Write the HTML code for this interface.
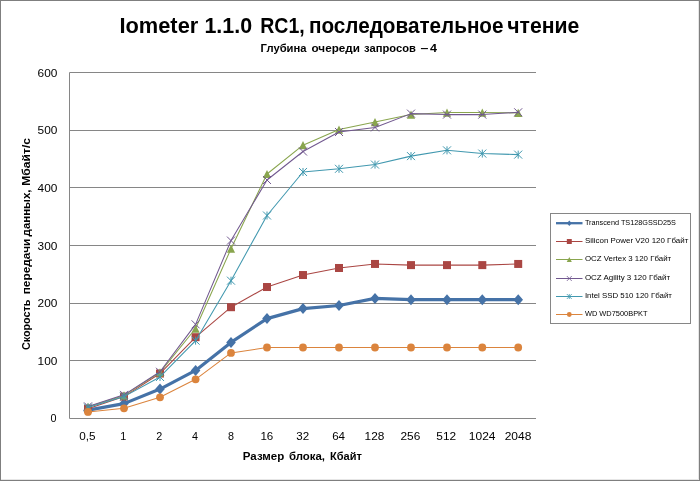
<!DOCTYPE html>
<html lang="ru"><head><meta charset="utf-8"><title>Iometer 1.1.0 RC1, последовательное чтение</title>
<style>html,body{margin:0;padding:0;background:#fff}body{width:700px;height:481px;overflow:hidden}svg{display:block}text{font-family:"Liberation Sans",sans-serif;fill:#000}.b{font-weight:bold}</style></head><body>
<svg width="700" height="481" viewBox="0 0 700 481">
<rect x="0" y="0" width="700" height="481" fill="#fff"/>
<path d="M69.50 418.50H536.00M69.50 360.50H536.00M69.50 303.50H536.00M69.50 245.50H536.00M69.50 187.50H536.00M69.50 130.50H536.00M69.50 72.50H536.00M69.50 72.50V418.50" stroke="#868686" stroke-width="1" fill="none"/>
<polyline points="88.00,410.14 124.00,403.62 160.00,389.09 195.60,370.41 231.00,342.38 267.00,318.62 303.00,308.59 339.00,305.47 375.00,298.38 411.00,299.71 447.00,299.71 482.30,299.71 518.20,299.71" fill="none" stroke="#4572A7" stroke-width="3.2" stroke-linejoin="round" stroke-linecap="round"/>
<path d="M88.00 404.64L92.80 410.14L88.00 415.64L83.20 410.14Z" fill="#4572A7"/><path d="M124.00 398.12L128.80 403.62L124.00 409.12L119.20 403.62Z" fill="#4572A7"/><path d="M160.00 383.59L164.80 389.09L160.00 394.59L155.20 389.09Z" fill="#4572A7"/><path d="M195.60 364.91L200.40 370.41L195.60 375.91L190.80 370.41Z" fill="#4572A7"/><path d="M231.00 336.88L235.80 342.38L231.00 347.88L226.20 342.38Z" fill="#4572A7"/><path d="M267.00 313.12L271.80 318.62L267.00 324.12L262.20 318.62Z" fill="#4572A7"/><path d="M303.00 303.09L307.80 308.59L303.00 314.09L298.20 308.59Z" fill="#4572A7"/><path d="M339.00 299.97L343.80 305.47L339.00 310.97L334.20 305.47Z" fill="#4572A7"/><path d="M375.00 292.88L379.80 298.38L375.00 303.88L370.20 298.38Z" fill="#4572A7"/><path d="M411.00 294.21L415.80 299.71L411.00 305.21L406.20 299.71Z" fill="#4572A7"/><path d="M447.00 294.21L451.80 299.71L447.00 305.21L442.20 299.71Z" fill="#4572A7"/><path d="M482.30 294.21L487.10 299.71L482.30 305.21L477.50 299.71Z" fill="#4572A7"/><path d="M518.20 294.21L523.00 299.71L518.20 305.21L513.40 299.71Z" fill="#4572A7"/>
<polyline points="88.00,408.70 124.00,396.59 160.00,373.52 195.60,337.19 231.00,307.20 267.00,287.02 303.00,275.03 339.00,267.99 375.00,263.95 411.00,265.11 447.00,265.11 482.30,265.11 518.20,263.95" fill="none" stroke="#AA4643" stroke-width="1.05" stroke-linejoin="round" stroke-linecap="round"/>
<rect x="84.00" y="404.70" width="8.00" height="8.00" fill="#AA4643"/><rect x="120.00" y="392.59" width="8.00" height="8.00" fill="#AA4643"/><rect x="156.00" y="369.52" width="8.00" height="8.00" fill="#AA4643"/><rect x="191.60" y="333.19" width="8.00" height="8.00" fill="#AA4643"/><rect x="227.00" y="303.20" width="8.00" height="8.00" fill="#AA4643"/><rect x="263.00" y="283.02" width="8.00" height="8.00" fill="#AA4643"/><rect x="299.00" y="271.03" width="8.00" height="8.00" fill="#AA4643"/><rect x="335.00" y="263.99" width="8.00" height="8.00" fill="#AA4643"/><rect x="371.00" y="259.95" width="8.00" height="8.00" fill="#AA4643"/><rect x="407.00" y="261.11" width="8.00" height="8.00" fill="#AA4643"/><rect x="443.00" y="261.11" width="8.00" height="8.00" fill="#AA4643"/><rect x="478.30" y="261.11" width="8.00" height="8.00" fill="#AA4643"/><rect x="514.20" y="259.95" width="8.00" height="8.00" fill="#AA4643"/>
<polyline points="88.00,406.97 124.00,395.43 160.00,372.37 195.60,328.54 231.00,248.73 267.00,173.99 303.00,145.16 339.00,129.59 375.00,122.09 411.00,114.60 447.00,112.58 482.30,112.58 518.20,112.87" fill="none" stroke="#89A54E" stroke-width="1.05" stroke-linejoin="round" stroke-linecap="round"/>
<path d="M88.00 402.87L92.10 411.07L83.90 411.07Z" fill="#89A54E"/><path d="M124.00 391.33L128.10 399.53L119.90 399.53Z" fill="#89A54E"/><path d="M160.00 368.27L164.10 376.47L155.90 376.47Z" fill="#89A54E"/><path d="M195.60 324.44L199.70 332.64L191.50 332.64Z" fill="#89A54E"/><path d="M231.00 244.63L235.10 252.83L226.90 252.83Z" fill="#89A54E"/><path d="M267.00 169.89L271.10 178.09L262.90 178.09Z" fill="#89A54E"/><path d="M303.00 141.06L307.10 149.26L298.90 149.26Z" fill="#89A54E"/><path d="M339.00 125.49L343.10 133.69L334.90 133.69Z" fill="#89A54E"/><path d="M375.00 117.99L379.10 126.19L370.90 126.19Z" fill="#89A54E"/><path d="M411.00 110.50L415.10 118.70L406.90 118.70Z" fill="#89A54E"/><path d="M447.00 108.48L451.10 116.68L442.90 116.68Z" fill="#89A54E"/><path d="M482.30 108.48L486.40 116.68L478.20 116.68Z" fill="#89A54E"/><path d="M518.20 108.77L522.30 116.97L514.10 116.97Z" fill="#89A54E"/>
<polyline points="88.00,406.39 124.00,394.86 160.00,371.79 195.60,324.33 231.00,240.60 267.00,179.99 303.00,151.50 339.00,132.01 375.00,127.40 411.00,113.62 447.00,114.60 482.30,114.60 518.20,112.29" fill="none" stroke="#71588F" stroke-width="1.05" stroke-linejoin="round" stroke-linecap="round"/>
<path d="M84.00 402.39L92.00 410.39M84.00 410.39L92.00 402.39" stroke="#71588F" stroke-width="1.00" fill="none"/><path d="M120.00 390.86L128.00 398.86M120.00 398.86L128.00 390.86" stroke="#71588F" stroke-width="1.00" fill="none"/><path d="M156.00 367.79L164.00 375.79M156.00 375.79L164.00 367.79" stroke="#71588F" stroke-width="1.00" fill="none"/><path d="M191.60 320.33L199.60 328.33M191.60 328.33L199.60 320.33" stroke="#71588F" stroke-width="1.00" fill="none"/><path d="M227.00 236.60L235.00 244.60M227.00 244.60L235.00 236.60" stroke="#71588F" stroke-width="1.00" fill="none"/><path d="M263.00 175.99L271.00 183.99M263.00 183.99L271.00 175.99" stroke="#71588F" stroke-width="1.00" fill="none"/><path d="M299.00 147.50L307.00 155.50M299.00 155.50L307.00 147.50" stroke="#71588F" stroke-width="1.00" fill="none"/><path d="M335.00 128.01L343.00 136.01M335.00 136.01L343.00 128.01" stroke="#71588F" stroke-width="1.00" fill="none"/><path d="M371.00 123.40L379.00 131.40M371.00 131.40L379.00 123.40" stroke="#71588F" stroke-width="1.00" fill="none"/><path d="M407.00 109.62L415.00 117.62M407.00 117.62L415.00 109.62" stroke="#71588F" stroke-width="1.00" fill="none"/><path d="M443.00 110.60L451.00 118.60M443.00 118.60L451.00 110.60" stroke="#71588F" stroke-width="1.00" fill="none"/><path d="M478.30 110.60L486.30 118.60M478.30 118.60L486.30 110.60" stroke="#71588F" stroke-width="1.00" fill="none"/><path d="M514.20 108.29L522.20 116.29M514.20 116.29L522.20 108.29" stroke="#71588F" stroke-width="1.00" fill="none"/>
<polyline points="88.00,407.54 124.00,396.59 160.00,376.98 195.60,340.65 231.00,280.68 267.00,215.51 303.00,171.97 339.00,168.80 375.00,164.59 411.00,156.12 447.00,150.35 482.30,153.58 518.20,154.62" fill="none" stroke="#4198AF" stroke-width="1.05" stroke-linejoin="round" stroke-linecap="round"/>
<path d="M84.00 403.54L92.00 411.54M84.00 411.54L92.00 403.54M88.00 403.54L88.00 411.54" stroke="#4198AF" stroke-width="1.00" fill="none"/><path d="M120.00 392.59L128.00 400.59M120.00 400.59L128.00 392.59M124.00 392.59L124.00 400.59" stroke="#4198AF" stroke-width="1.00" fill="none"/><path d="M156.00 372.98L164.00 380.98M156.00 380.98L164.00 372.98M160.00 372.98L160.00 380.98" stroke="#4198AF" stroke-width="1.00" fill="none"/><path d="M191.60 336.65L199.60 344.65M191.60 344.65L199.60 336.65M195.60 336.65L195.60 344.65" stroke="#4198AF" stroke-width="1.00" fill="none"/><path d="M227.00 276.68L235.00 284.68M227.00 284.68L235.00 276.68M231.00 276.68L231.00 284.68" stroke="#4198AF" stroke-width="1.00" fill="none"/><path d="M263.00 211.51L271.00 219.51M263.00 219.51L271.00 211.51M267.00 211.51L267.00 219.51" stroke="#4198AF" stroke-width="1.00" fill="none"/><path d="M299.00 167.97L307.00 175.97M299.00 175.97L307.00 167.97M303.00 167.97L303.00 175.97" stroke="#4198AF" stroke-width="1.00" fill="none"/><path d="M335.00 164.80L343.00 172.80M335.00 172.80L343.00 164.80M339.00 164.80L339.00 172.80" stroke="#4198AF" stroke-width="1.00" fill="none"/><path d="M371.00 160.59L379.00 168.59M371.00 168.59L379.00 160.59M375.00 160.59L375.00 168.59" stroke="#4198AF" stroke-width="1.00" fill="none"/><path d="M407.00 152.12L415.00 160.12M407.00 160.12L415.00 152.12M411.00 152.12L411.00 160.12" stroke="#4198AF" stroke-width="1.00" fill="none"/><path d="M443.00 146.35L451.00 154.35M443.00 154.35L451.00 146.35M447.00 146.35L447.00 154.35" stroke="#4198AF" stroke-width="1.00" fill="none"/><path d="M478.30 149.58L486.30 157.58M478.30 157.58L486.30 149.58M482.30 149.58L482.30 157.58" stroke="#4198AF" stroke-width="1.00" fill="none"/><path d="M514.20 150.62L522.20 158.62M514.20 158.62L522.20 150.62M518.20 150.62L518.20 158.62" stroke="#4198AF" stroke-width="1.00" fill="none"/>
<polyline points="88.00,411.93 124.00,408.29 160.00,397.34 195.60,379.34 231.00,352.93 267.00,347.51 303.00,347.51 339.00,347.51 375.00,347.51 411.00,347.51 447.00,347.51 482.30,347.51 518.20,347.51" fill="none" stroke="#DB843D" stroke-width="1.05" stroke-linejoin="round" stroke-linecap="round"/>
<circle cx="88.00" cy="411.93" r="3.90" fill="#DB843D"/><circle cx="124.00" cy="408.29" r="3.90" fill="#DB843D"/><circle cx="160.00" cy="397.34" r="3.90" fill="#DB843D"/><circle cx="195.60" cy="379.34" r="3.90" fill="#DB843D"/><circle cx="231.00" cy="352.93" r="3.90" fill="#DB843D"/><circle cx="267.00" cy="347.51" r="3.90" fill="#DB843D"/><circle cx="303.00" cy="347.51" r="3.90" fill="#DB843D"/><circle cx="339.00" cy="347.51" r="3.90" fill="#DB843D"/><circle cx="375.00" cy="347.51" r="3.90" fill="#DB843D"/><circle cx="411.00" cy="347.51" r="3.90" fill="#DB843D"/><circle cx="447.00" cy="347.51" r="3.90" fill="#DB843D"/><circle cx="482.30" cy="347.51" r="3.90" fill="#DB843D"/><circle cx="518.20" cy="347.51" r="3.90" fill="#DB843D"/>
<text x="50.40" y="421.90" font-size="11" textLength="6.00" lengthAdjust="spacingAndGlyphs">0</text>
<text x="37.60" y="364.90" font-size="11" textLength="19.80" lengthAdjust="spacingAndGlyphs">100</text>
<text x="37.60" y="306.90" font-size="11" textLength="19.80" lengthAdjust="spacingAndGlyphs">200</text>
<text x="37.60" y="249.90" font-size="11" textLength="19.80" lengthAdjust="spacingAndGlyphs">300</text>
<text x="37.60" y="191.90" font-size="11" textLength="19.80" lengthAdjust="spacingAndGlyphs">400</text>
<text x="37.60" y="133.90" font-size="11" textLength="19.80" lengthAdjust="spacingAndGlyphs">500</text>
<text x="37.60" y="76.90" font-size="11" textLength="19.80" lengthAdjust="spacingAndGlyphs">600</text>
<text x="79.29" y="440.3" font-size="11" textLength="16.30" lengthAdjust="spacingAndGlyphs">0,5</text>
<text x="120.33" y="440.3" font-size="11" textLength="6.00" lengthAdjust="spacingAndGlyphs">1</text>
<text x="156.21" y="440.3" font-size="11" textLength="6.00" lengthAdjust="spacingAndGlyphs">2</text>
<text x="192.10" y="440.3" font-size="11" textLength="6.00" lengthAdjust="spacingAndGlyphs">4</text>
<text x="227.98" y="440.3" font-size="11" textLength="6.00" lengthAdjust="spacingAndGlyphs">8</text>
<text x="260.42" y="440.3" font-size="11" textLength="12.90" lengthAdjust="spacingAndGlyphs">16</text>
<text x="296.30" y="440.3" font-size="11" textLength="12.90" lengthAdjust="spacingAndGlyphs">32</text>
<text x="332.18" y="440.3" font-size="11" textLength="12.90" lengthAdjust="spacingAndGlyphs">64</text>
<text x="364.62" y="440.3" font-size="11" textLength="19.80" lengthAdjust="spacingAndGlyphs">128</text>
<text x="400.50" y="440.3" font-size="11" textLength="19.80" lengthAdjust="spacingAndGlyphs">256</text>
<text x="436.39" y="440.3" font-size="11" textLength="19.80" lengthAdjust="spacingAndGlyphs">512</text>
<text x="468.82" y="440.3" font-size="11" textLength="26.70" lengthAdjust="spacingAndGlyphs">1024</text>
<text x="504.71" y="440.3" font-size="11" textLength="26.70" lengthAdjust="spacingAndGlyphs">2048</text>
<text class="b" font-size="21.5"><tspan x="119.40" y="33.1" textLength="78.90" lengthAdjust="spacingAndGlyphs">Iometer</tspan> <tspan x="204.40" y="33.1" textLength="47.70" lengthAdjust="spacingAndGlyphs">1.1.0</tspan> <tspan x="260.20" y="33.1" textLength="44.50" lengthAdjust="spacingAndGlyphs">RC1,</tspan> <tspan x="309.00" y="33.1" textLength="194.50" lengthAdjust="spacingAndGlyphs">последовательное</tspan> <tspan x="507.30" y="33.1" textLength="72.10" lengthAdjust="spacingAndGlyphs">чтение</tspan></text>
<text class="b" font-size="10.6"><tspan x="260.60" y="51.5" textLength="45.90" lengthAdjust="spacingAndGlyphs">Глубина</tspan> <tspan x="311.50" y="51.5" textLength="48.40" lengthAdjust="spacingAndGlyphs">очереди</tspan> <tspan x="364.10" y="51.5" textLength="51.80" lengthAdjust="spacingAndGlyphs">запросов</tspan> <tspan x="420.60" y="51.5" textLength="7.90" lengthAdjust="spacingAndGlyphs">–</tspan> <tspan x="430.10" y="51.5" textLength="7.00" lengthAdjust="spacingAndGlyphs">4</tspan></text>
<text class="b" font-size="11.3"><tspan x="242.80" y="459.8" textLength="41.50" lengthAdjust="spacingAndGlyphs">Размер</tspan> <tspan x="288.90" y="459.8" textLength="36.10" lengthAdjust="spacingAndGlyphs">блока,</tspan> <tspan x="330.00" y="459.8" textLength="31.80" lengthAdjust="spacingAndGlyphs">Кбайт</tspan></text>
<text class="b" transform="translate(29.6 350) rotate(-90)" font-size="11.3"><tspan x="-0.10" y="0" textLength="50.50" lengthAdjust="spacingAndGlyphs">Скорость</tspan> <tspan x="55.70" y="0" textLength="55.70" lengthAdjust="spacingAndGlyphs">передачи</tspan> <tspan x="113.60" y="0" textLength="46.90" lengthAdjust="spacingAndGlyphs">данных,</tspan> <tspan x="164.30" y="0" textLength="47.70" lengthAdjust="spacingAndGlyphs">Мбайт/с</tspan></text>
<rect x="550.5" y="213.5" width="140" height="110" fill="#fff" stroke="#868686" stroke-width="1"/>
<path d="M556 223.20H582.5" stroke="#4572A7" stroke-width="2.3" fill="none"/>
<path d="M569.30 220.45L571.70 223.20L569.30 225.95L566.90 223.20Z" fill="#4572A7"/>
<text x="584.9" y="225.10" font-size="8.1" textLength="91.0" lengthAdjust="spacingAndGlyphs">Transcend TS128GSSD25S</text>
<path d="M556 241.50H582.5" stroke="#AA4643" stroke-width="1" fill="none"/>
<rect x="566.82" y="239.02" width="4.96" height="4.96" fill="#AA4643"/>
<text x="584.9" y="243.40" font-size="8.1" textLength="103.4" lengthAdjust="spacingAndGlyphs">Silicon Power V20 120 Гбайт</text>
<path d="M556 259.50H582.5" stroke="#89A54E" stroke-width="1" fill="none"/>
<path d="M569.30 256.96L571.84 262.04L566.76 262.04Z" fill="#89A54E"/>
<text x="584.9" y="261.40" font-size="8.1" textLength="86.3" lengthAdjust="spacingAndGlyphs">OCZ Vertex 3 120 Гбайт</text>
<path d="M556 278.50H582.5" stroke="#71588F" stroke-width="1" fill="none"/>
<path d="M566.82 276.02L571.78 280.98M566.82 280.98L571.78 276.02" stroke="#71588F" stroke-width="0.80" fill="none"/>
<text x="584.9" y="280.40" font-size="8.1" textLength="85.2" lengthAdjust="spacingAndGlyphs">OCZ Agility 3 120 Гбайт</text>
<path d="M556 296.50H582.5" stroke="#4198AF" stroke-width="1" fill="none"/>
<path d="M566.82 294.02L571.78 298.98M566.82 298.98L571.78 294.02M569.30 294.02L569.30 298.98" stroke="#4198AF" stroke-width="0.80" fill="none"/>
<text x="584.9" y="298.40" font-size="8.1" textLength="87.0" lengthAdjust="spacingAndGlyphs">Intel SSD 510 120 Гбайт</text>
<path d="M556 314.50H582.5" stroke="#DB843D" stroke-width="1" fill="none"/>
<circle cx="569.30" cy="314.50" r="2.42" fill="#DB843D"/>
<text x="584.9" y="316.40" font-size="8.1" textLength="62.7" lengthAdjust="spacingAndGlyphs">WD WD7500BPKT</text>
<rect x="0.5" y="0.5" width="699" height="480" fill="none" stroke="#7f7f7f" stroke-width="1"/>
<path d="M698.5 1V479.5H1" fill="none" stroke="#e6e6e6" stroke-width="1"/>
</svg></body></html>
